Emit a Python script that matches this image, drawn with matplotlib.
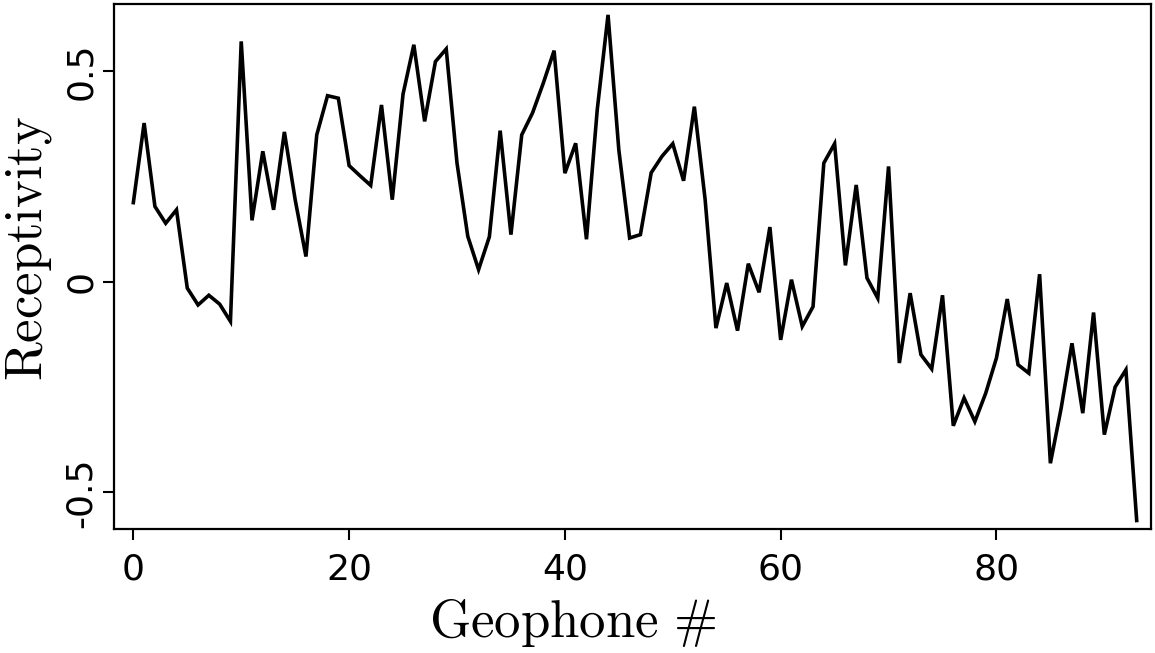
import matplotlib
matplotlib.use("Agg")
import matplotlib.pyplot as plt
import numpy as np

# receptivity per geophone
geophone = np.arange(94)
receptivity = [
    0.188, 0.377, 0.179, 0.139, 0.171, -0.015, -0.055, -0.032, -0.053, -0.094,
    0.571, 0.146, 0.310, 0.171, 0.356, 0.195, 0.060, 0.349, 0.442, 0.436,
    0.276, 0.252, 0.229, 0.420, 0.195, 0.446, 0.563, 0.381, 0.523, 0.553,
    0.282, 0.108, 0.029, 0.107, 0.359, 0.112, 0.349, 0.401, 0.472, 0.549,
    0.258, 0.329, 0.101, 0.409, 0.634, 0.313, 0.104, 0.112, 0.259, 0.298,
    0.328, 0.240, 0.416, 0.195, -0.110, -0.003, -0.116, 0.043, -0.025, 0.130,
    -0.138, 0.005, -0.106, -0.059, 0.282, 0.328, 0.039, 0.230, 0.009, -0.039,
    0.274, -0.193, -0.027, -0.173, -0.207, -0.032, -0.342, -0.276, -0.332, -0.265,
    -0.181, -0.041, -0.197, -0.217, 0.018, -0.431, -0.300, -0.146, -0.312, -0.073,
    -0.363, -0.250, -0.209, -0.567,
]

xticks = [0, 20, 40, 60, 80]
yticks = [-0.5, 0, 0.5]
yticklabels = ["-0.5", "0", "0.5"]

plt.rcParams['mathtext.fontset'] = 'cm'

fig = plt.figure(figsize=(11.55, 6.53), dpi=100)
ax = fig.add_axes([0.099, 0.19, 0.8973, 0.804])

ax.plot(geophone, receptivity, color="black", lw=2.6, solid_joinstyle="miter")

ax.set_xlim(-1.76, 94.3)
ax.set_ylim(-0.587, 0.660)

ax.set_xticks(xticks)
ax.set_xticklabels([str(t) for t in xticks], fontsize=26)
ax.set_yticks(yticks)
ax.set_yticklabels(yticklabels, fontsize=26, rotation=90, va="center")

ax.tick_params(direction="out", length=8, width=1.5)
ax.tick_params(axis="x", pad=9)
ax.tick_params(axis="y", pad=4)
for s in ax.spines.values():
    s.set_linewidth(1.6)

ax.set_xlabel(r"$\mathrm{Geophone}\ \#$", fontsize=38)
ax.set_ylabel(r"$\mathrm{Receptivity}$", fontsize=38)
ax.xaxis.set_label_coords(0.442, -0.13)
ax.yaxis.set_label_coords(-0.058, 0.535)

fig.savefig("out.png", dpi=100)
